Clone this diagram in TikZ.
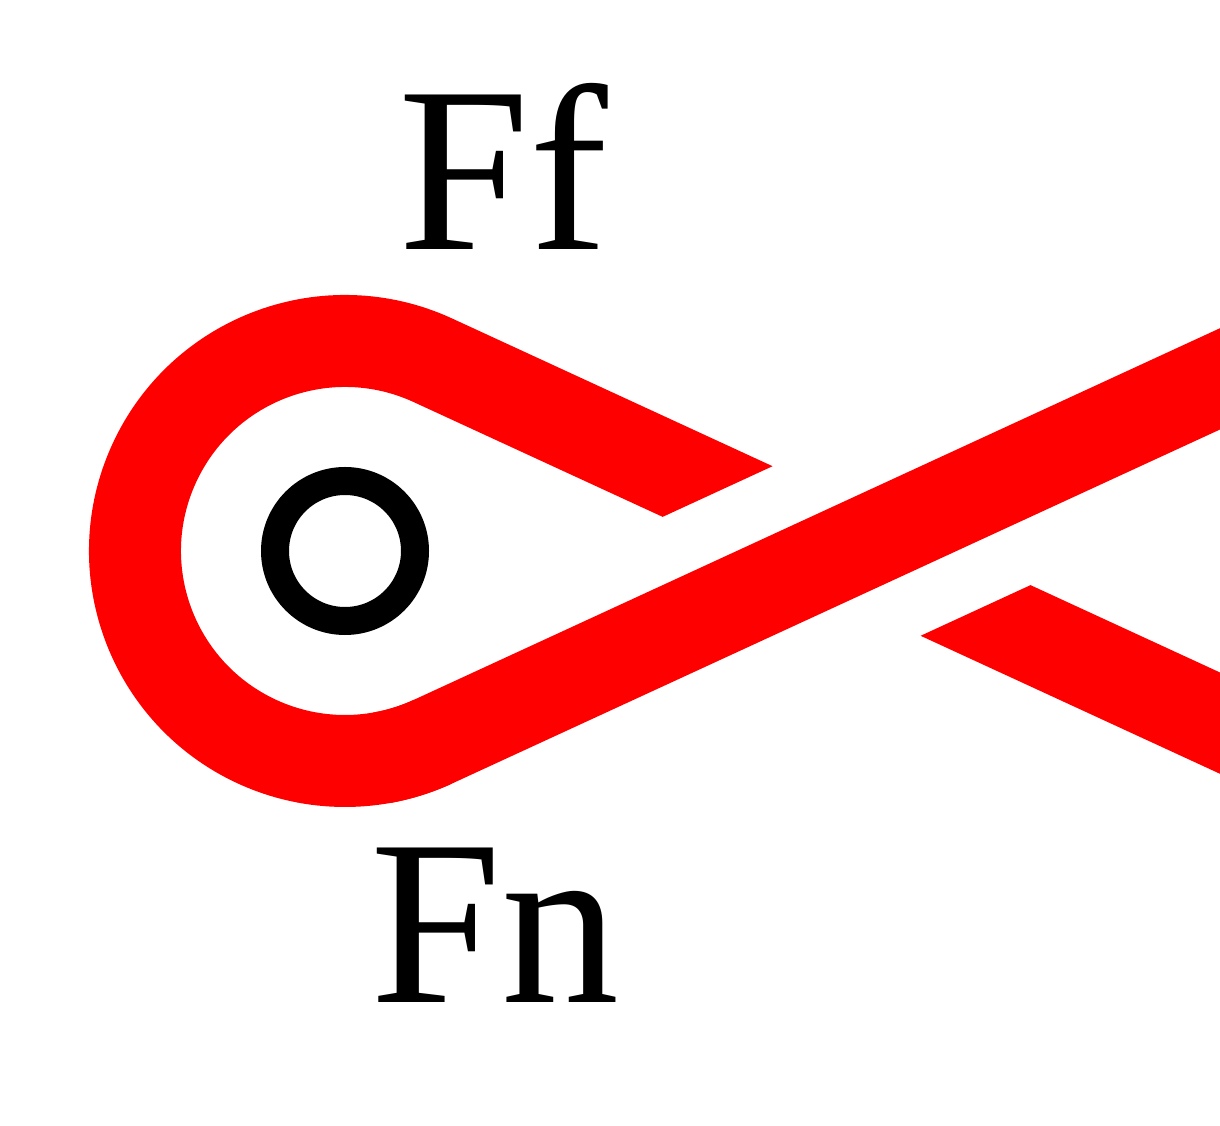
\documentclass[tikz,border=0pt]{standalone}
\usepackage{fontspec}
\setmainfont{Liberation Serif}
\usetikzlibrary{calc}
\tikzset{
  band/.style={draw=red, line width=92pt},
  pulleyring/.style={circle, draw=black, line width=28pt, minimum size=140pt, inner sep=0pt},
  biglabel/.style={anchor=base west, inner sep=0pt, font=\fontsize{236}{240}\selectfont}
}
\begin{document}
\begin{tikzpicture}[x=1pt,y=1pt]
\useasboundingbox[fill=white] (0,0) rectangle (1220,1125);
\coordinate (C) at (345,574);
\coordinate (T1) at ($(C)+(65.25:210)$);
\coordinate (T2) at ($(C)+(-65.25:210)$);
\coordinate (T3) at ($(C)+(-80:210)$);
\coordinate (E1) at ($(T1)+(-24.75:1000)$);
\coordinate (E2) at ($(T2)+(24.75:1000)$);
% region round the ascending band where the descending band passes under it
\coordinate (A1) at ($(T2)+(24.75:200)+(114.75:108)$);
\coordinate (A2) at ($(T2)+(24.75:750)+(114.75:108)$);
\coordinate (A3) at ($(T2)+(24.75:750)+(294.75:108)$);
\coordinate (A4) at ($(T2)+(24.75:200)+(294.75:108)$);
\begin{scope}[even odd rule]
  \clip (0,0) rectangle (1220,1125)
        (A1) -- (A2) -- (A3) -- (A4) -- cycle;
  \draw[band] (E1) -- (T1) arc[start angle=65.25, end angle=294.75, radius=210];
\end{scope}
\begin{scope}
  \clip (0,0) rectangle (1220,1125);
  \draw[band] (T3) arc[start angle=280, end angle=294.75, radius=210] -- (E2);
\end{scope}
\node[pulleyring] (pulley) at (C) {};
\node[biglabel] (ff) at (398,875) {Ff};
\node[biglabel] (fn) at (370,123) {Fn};
\end{tikzpicture}
\end{document}
